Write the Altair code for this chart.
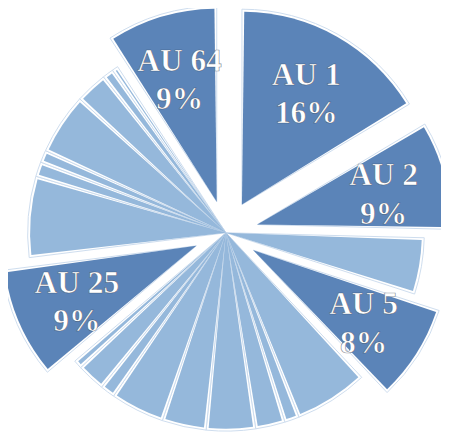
import altair as alt
import pandas as pd

# Slices clockwise from 12 o'clock (percent of total)
names = ["AU 1", "AU 2", "AU 4", "AU 5", "AU 6", "AU 7", "AU 9", "AU 10", "AU 12",
         "AU 14", "AU 15", "AU 16", "AU 17", "AU 25", "AU 26", "AU 27", "AU 28",
         "AU 41", "AU 43", "AU 45", "AU 46", "AU 64"]
values = [16.4, 9, 4.6, 8, 6, 1.2, 2.4, 4, 3.6,
          4.4, 1.2, 2.3, 0.7, 9.2, 6.6, 1.2, 1.0,
          5.0, 2.6, 0.9, 0.5, 9.2]
highlight = ["AU 1", "AU 2", "AU 5", "AU 25", "AU 64"]

df = pd.DataFrame({"name": names, "value": values, "order": list(range(len(names)))})
df["group"] = ["major" if n in highlight else "minor" for n in names]

CX, CY = 222, 225
R = 202
R_MAJOR = 199
EXPLODE = 33
LABEL_R = 133

base = alt.Chart(df).transform_window(
    cum="sum(value)", sort=[alt.SortField("order")], frame=[None, 0]
).transform_joinaggregate(
    total="sum(value)"
).transform_calculate(
    mid="2*PI*(datum.cum - datum.value/2)/datum.total",
    off=f"datum.group == 'major' ? {EXPLODE} : 0",
    pct="format(datum.value/datum.total, '.0%')",
).transform_calculate(
    cx=f"{CX} + datum.off*sin(datum.mid)",
    cy=f"{CY} - datum.off*cos(datum.mid)",
    lx=f"{CX} + (datum.off + {LABEL_R})*sin(datum.mid)",
    ly=f"{CY} - (datum.off + {LABEL_R})*cos(datum.mid)",
)

theta = alt.Theta("value:Q", stack=True)
color = alt.Color("group:N", scale=alt.Scale(domain=["major", "minor"],
                                             range=["#5b84b8", "#95b8db"]), legend=None)
enc = dict(theta=theta, order=alt.Order("order:Q"),
           x=alt.X("cx:Q", scale=None), y=alt.Y("cy:Q", scale=None))

show_major = alt.condition("datum.group == 'major'", alt.value(1), alt.value(0))
show_minor = alt.condition("datum.group == 'major'", alt.value(0), alt.value(1))

layers = []
for rad, vis in [(R, show_minor), (R_MAJOR, show_major)]:
    layers.append(base.mark_arc(outerRadius=rad, fill="white", stroke="#cddcee",
                                strokeWidth=1).encode(opacity=vis, **enc))
for rad, vis in [(R, show_minor), (R_MAJOR, show_major)]:
    layers.append(base.mark_arc(outerRadius=rad - 2.5, padAngle=0.024).encode(
        color=color, opacity=vis, **enc))

lab = base.transform_filter("datum.group == 'major'")
tx = dict(x=alt.X("lx:Q", scale=None), y=alt.Y("ly:Q", scale=None))
font = dict(font="Liberation Serif", fontWeight="bold", fontSize=32, align="center",
            baseline="middle", stroke="#1f2f45", strokeWidth=0.7, strokeOpacity=0.55)

text1 = lab.mark_text(color="white", dy=-16, **font).encode(text="name:N", **tx)
text2 = lab.mark_text(color="white", dy=23, **font).encode(text="pct:N", **tx)

chart = alt.layer(*layers, text1, text2).properties(
    width=441, height=425, padding=0, autosize=alt.AutoSizeParams(type="none")
).configure_view(stroke=None)

chart.save("out.html", embed_options={"renderer": "svg", "actions": False})
